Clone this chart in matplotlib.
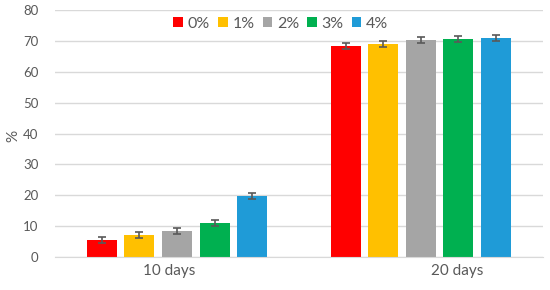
import matplotlib
matplotlib.use("Agg")
import matplotlib.pyplot as plt
import numpy as np

categories = ["10 days", "20 days"]
series = ["0%", "1%", "2%", "3%", "4%"]
values = {
    "0%": [5.5, 68.4],
    "1%": [7.1, 69.0],
    "2%": [8.4, 70.2],
    "3%": [11.0, 70.6],
    "4%": [19.8, 70.9],
}
errors = {
    "0%": [1.0, 1.0],
    "1%": [1.0, 1.0],
    "2%": [1.0, 1.0],
    "3%": [1.0, 1.0],
    "4%": [1.0, 1.0],
}
colors = ["#FF0000", "#FFC000", "#A5A5A5", "#00B050", "#1F9BD7"]
yticks = [0, 10, 20, 30, 40, 50, 60, 70, 80]

plt.rcParams["font.family"] = ["Lato", "DejaVu Sans"]
txt = "#595959"

fig = plt.figure(figsize=(5.5, 2.9), dpi=100)
ax = fig.add_axes([0.1, 0.1138, 0.887, 0.8517])

x = np.arange(len(categories))
pitch = 0.154
width = 0.123
for i, s in enumerate(series):
    pos = x + (i - 2) * pitch
    ax.bar(pos, values[s], width=width, color=colors[i], label=s, zorder=2)
    ax.errorbar(pos, values[s], yerr=errors[s], fmt="none", ecolor="#595959",
                elinewidth=1.2, capsize=2.6, capthick=1.2, zorder=3)

ax.set_xlim(-0.5, 1.5)
ax.set_ylim(0, 80)
ax.set_yticks(yticks)
ax.yaxis.grid(True, color="#D9D9D9", linewidth=1)
ax.set_axisbelow(True)
for sp in ["top", "right", "left"]:
    ax.spines[sp].set_visible(False)
ax.spines["bottom"].set_color("#D9D9D9")
ax.tick_params(axis="both", length=0, colors=txt)
ax.tick_params(axis="y", pad=12, labelsize=9.5)
# category labels sit slightly off the group centres in the reference
label_shift = [-0.03, 0.15]
ax.set_xticks(x + np.array(label_shift))
ax.set_xticklabels(categories)
ax.tick_params(axis="x", pad=5, labelsize=11)
ax.set_ylabel("%", color=txt, fontsize=11, va="center", ha="center")
ax.yaxis.set_label_coords(-0.085, 0.49)

leg = ax.legend(loc="center", bbox_to_anchor=(0.463, 0.945), ncol=5, frameon=False,
                handlelength=0.6, handleheight=0.6, handletextpad=0.3,
                columnspacing=0.5, fontsize=11.5)
for t in leg.get_texts():
    t.set_color(txt)

fig.savefig("out.png", dpi=100)
